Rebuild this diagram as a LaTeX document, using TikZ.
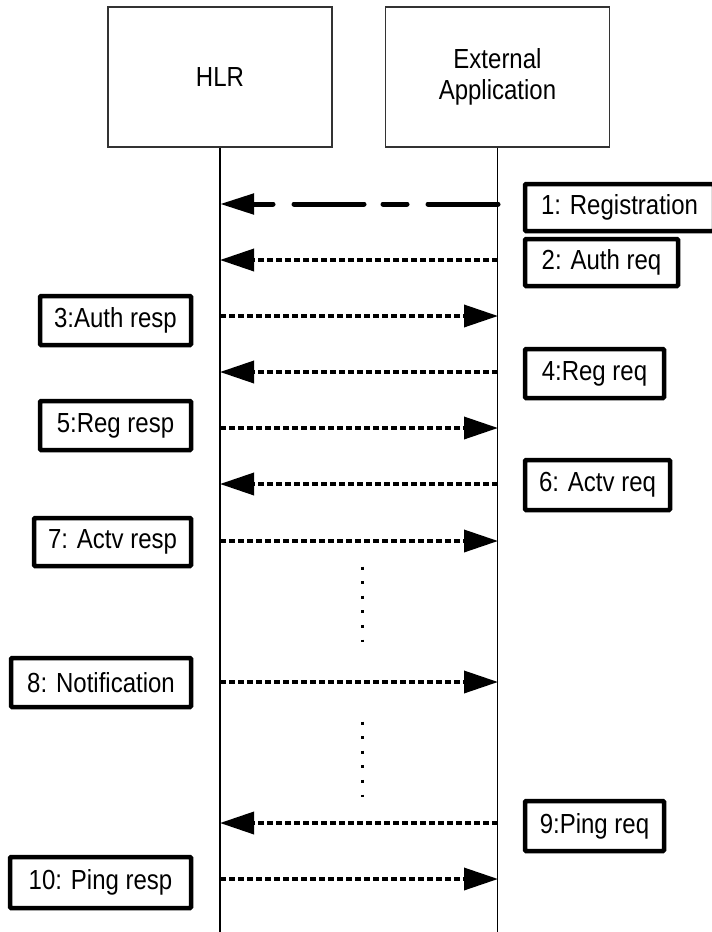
\documentclass[tikz,border=0pt]{standalone}
\usepackage{fontspec}
\setmainfont{Liberation Sans}
\usetikzlibrary{arrows.meta}
\newcommand{\vtxt}[1]{\scalebox{1}[1.15]{#1}}
\tikzset{
  header/.style={draw=black!80, line width=1.3pt, inner sep=0pt, minimum width=224pt, minimum height=140pt, align=center, font=\fontsize{24}{30}\selectfont},
  lifeline/.style={draw=black, line width=1.3pt},
  lbl/.style={draw=black, line width=4.5pt, rounded corners=1pt, inner sep=0pt, fill=white, font=\fontsize{24}{28}\selectfont},
  msg/.style={line width=3.6pt, dash pattern=on 6pt off 3pt, -{Triangle[length=34pt,width=22pt]}},
  bigmsg/.style={line width=5pt, line cap=round, dash pattern=on 70pt off 21pt on 24pt off 19pt, -{Triangle[length=34pt,width=20pt]}},
  dotcol/.style={line width=3pt, dash pattern=on 3pt off 11.6pt}
}
\begin{document}
\begin{tikzpicture}[x=1pt,y=-1pt]
\useasboundingbox[fill=white] (0,0) rectangle (712,932);
% participants
\node[header] (hlr) at (220,77) {\vtxt{HLR}};
\node[header] (ext) at (497.5,77) {\vtxt{External}\\[1pt]\vtxt{Application}};
\coordinate (hend) at (220,932);
\coordinate (eend) at (497.5,932);
\draw[lifeline] (hlr.south) -- (hend);
\draw[lifeline] (ext.south) -- (eend);
% lifeline anchor points
\foreach \i/\y in {1/204,2/260,3/316,4/372,5/428,6/484,7/541,8/682,9/823,10/879}{
  \coordinate (h\i) at (220,\y);
  \coordinate (e\i) at (498,\y);
}
% messages
\draw[bigmsg] (e1) -- (h1);
\draw[msg] (e2) -- (h2);
\draw[msg] (h3) -- (e3);
\draw[msg] (e4) -- (h4);
\draw[msg] (h5) -- (e5);
\draw[msg] (e6) -- (h6);
\draw[msg] (h7) -- (e7);
\draw[msg] (h8) -- (e8);
\draw[msg] (e9) -- (h9);
\draw[msg] (h10) -- (e10);
% labels
\node[lbl, minimum width=189pt, minimum height=47pt] (l1) at (619.5,207.5) {\vtxt{1: Registration}};
\node[lbl, minimum width=153pt, minimum height=47pt] (l2) at (601.5,262.5) {\vtxt{2: Auth req}};
\node[lbl, minimum width=151pt, minimum height=49pt] (l3) at (115.5,320.5) {\vtxt{3:Auth resp}};
\node[lbl, minimum width=139pt, minimum height=49pt] (l4) at (594.5,373.5) {\vtxt{4:Reg req}};
\node[lbl, minimum width=151pt, minimum height=49pt] (l5) at (115.5,425.5) {\vtxt{5:Reg resp}};
\node[lbl, minimum width=145pt, minimum height=50pt] (l6) at (597.5,485) {\vtxt{6: Actv req}};
\node[lbl, minimum width=157pt, minimum height=48pt] (l7) at (112.5,542) {\vtxt{7: Actv resp}};
\node[lbl, minimum width=180pt, minimum height=49pt] (l8) at (101,682.5) {\vtxt{8: Notification}};
\node[lbl, minimum width=139pt, minimum height=50pt] (l9) at (594.5,826) {\vtxt{9:Ping req}};
\node[lbl, minimum width=181pt, minimum height=51pt] (l10) at (100.5,882.5) {\vtxt{10: Ping resp}};
% continuation dots
\coordinate (d1a) at (362,566.5);
\coordinate (d1b) at (362,642);
\coordinate (d2a) at (362,721.5);
\coordinate (d2b) at (362,797);
\draw[dotcol] (d1a) -- (d1b);
\draw[dotcol] (d2a) -- (d2b);
\end{tikzpicture}
\end{document}
